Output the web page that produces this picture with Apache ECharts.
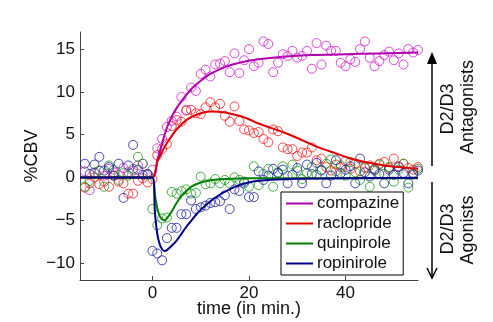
<!DOCTYPE html>
<html>
<head>
<meta charset="utf-8">
<script src="https://cdn.jsdelivr.net/npm/echarts@6/dist/echarts.min.js"></script>
<style>
  html, body { margin: 0; padding: 0; background: #fff; }
  #chart { width: 493px; height: 322px; }
</style>
</head>
<body>
<div id="chart"></div>
<script>
// sample times (min)
const time = [-14, -13, -12, -11, -10, -9, -8, -7, -6, -5, -4, -3, -2, -1, 0,
  1, 2, 3, 4, 5, 6, 7, 8, 9, 10, 11, 12, 13, 14, 15, 16, 17, 18, 19, 20, 21,
  22, 23, 24, 25, 26, 27, 28, 29, 30, 31, 32, 33, 34, 35, 36, 37, 38, 39, 40,
  41, 42, 43, 44, 45, 46, 47, 48, 49, 50, 51, 52, 53, 54, 55]

const compazine = [0.7, -1.5, 0.5, 0.8, 0.2, 1.0, 0.6, 0.3, 1.1, 0.6, 0.8, 1.4, 1.6, 0.4, 0.9,
  3.4, 4.5, 5.9, 6.6, 7.1, 9.4, 7.9, 10.5, 10.1, 12.1, 12.6, 11.8, 13.2, 13.3, 13.6, 12.3, 14.5, 12.2, 13.7, 15.0, 13.0,
  13.4, 15.9, 15.6, 12.3, 13.4, 14.4, 14.2, 14.8, 14.0, 14.2, 14.8, 12.7, 15.7, 13.2, 15.4, 14.8, 14.8,
  13.4, 13.0, 13.8, 13.5, 15.0, 15.9, 14.0, 13.0, 13.6, 14.3, 14.7, 13.7, 14.5, 13.2, 15.0, 14.6, 14.9]
const raclopride = [-1.2, -0.7, 0.0, -0.8, -0.5, -1.1, 0.2, -0.5, -0.7, -1.9, -1.9, -0.4, -0.1, -0.6, -0.2,
  2.6, 3.3, 3.9, 6.0, 6.7, 6.5, 7.8, 7.9, 7.5, 7.4, 8.2, 8.8, 8.2, 8.6, 7.2, 6.5, 8.3, 6.6, 5.6, 5.5, 5.2,
  5.3, 4.5, 4.1, 5.6, 5.4, 3.5, 3.3, 3.3, 2.5, 2.9, 2.9, 3.5, 2.0, 2.2, 1.2, 0.8, 1.5,
  1.2, 1.9, 1.0, 1.6, 0.7, 1.2, 1.4, 0.9, 1.6, 1.8, 1.1, 2.2, 1.3, 1.6, 1.1, 0.9, 1.2]
const quinpirole = [-1.1, -0.4, 0.6, 0.8, -1.1, 1.4, 0.9, -0.3, 0.5, 0.2, 1.0, 2.4, 1.6, 0.3, -3.7,
  -5.6, -4.8, -4.7, -1.7, -1.9, -1.6, -1.4, -1.9, -1.8, 0.1, -0.8, -0.7, -0.2, -0.7, -0.3, -0.7, 0.0, -0.3, -0.7, -1.1, 1.3,
  -0.9, 0.4, 1.0, -1.1, 0.6, 1.3, 0.2, 1.5, 0.8, -0.2, 0.5, 1.2, 0.3, 0.9, 1.6, 2.1, 0.7,
  1.4, 0.2, 1.8, 0.6, -0.3, 1.1, -1.1, 0.8, 1.5, 0.4, 1.2, -0.5, 0.9, 1.6, -1.2, 0.5, 1.0]
const ropinirole = [1.6, 0.4, 1.5, 2.4, 0.8, 1.2, 0.2, 1.6, -2.4, 1.4, 3.8, 0.9, 0.3, 0.4, -8.6,
  -8.9, -9.7, -7.1, -5.9, -5.9, -4.3, -4.3, -2.7, -3.7, -3.5, -3.3, -3.0, -2.9, -2.8, -2.1, -3.7, -1.4, -1.6, -0.5, -2.3, -2.3,
  0.7, -0.3, 0.2, 1.0, 0.5, 0.9, -0.7, 0.3, 1.1, -0.7, 1.5, 0.4, 1.7, 0.8, -0.7, 0.2, 2.0,
  0.5, 0.9, 1.3, -0.7, 2.2, 0.6, 0.1, 1.0, 0.4, -0.7, 0.9, 0.3, 1.2, 0.5, -0.7, 0.35, 0.8]

// fitted curves, [time, %CBV]
const compazineFit = [[-15, 0], [0, 0], [1, 2.0], [2, 4.0], [3, 5.8], [4, 7.1], [5, 8.1], [6, 8.9],
  [8, 10.3], [10, 11.3], [12, 12.1], [15, 12.9], [18, 13.4], [22, 13.8], [27, 14.1], [33, 14.3],
  [40, 14.4], [47, 14.5], [55, 14.6]]
const raclorideFit = [[-15, 0], [0, 0], [1, 1.8], [2, 3.0], [3, 4.0], [5, 5.6], [7, 6.7], [9, 7.3],
  [12, 7.7], [15, 7.6], [18, 7.2], [20, 6.8], [22, 6.3], [25, 5.7], [27, 5.3], [30, 4.6], [34, 3.6],
  [38, 2.8], [41, 2.2], [44, 1.8], [48, 1.4], [51, 1.2], [55, 1.0]]
const quinpiroleFit = [[-15, 0], [0, 0], [0.5, -2.0], [1, -3.6], [1.5, -4.5], [2, -4.9], [2.5, -5.0],
  [3, -4.8], [4, -4.0], [5, -3.0], [6, -2.2], [7, -1.6], [8, -1.1], [10, -0.6], [12, -0.35],
  [15, -0.2], [20, -0.1], [55, -0.1]]
const ropiniroleFit = [[-15, 0], [0, 0], [0.5, -4.0], [1, -6.6], [1.5, -7.8], [2, -8.4], [2.5, -8.6],
  [3, -8.5], [4, -8.0], [5, -7.4], [6, -6.6], [7, -5.8], [8, -5.1], [9, -4.4], [10, -3.8], [12, -2.8],
  [14, -2.0], [16, -1.4], [18, -0.9], [20, -0.6], [22, -0.4], [26, -0.25], [30, -0.15], [40, -0.1], [55, -0.05]]

const names = ['compazine', 'raclopride', 'quinpirole', 'ropinirole']
const lineColors = ['#b000b0', '#dd0000', '#007f00', '#00008b']
const dotColors = ['#d61ad6', '#ff1a1a', '#1a9a1a', '#1a1aa8']
const xTicks = [0, 20, 40]
const yTicks = [-10, -5, 0, 5, 10, 15]

const FONT = 'Liberation Sans'
const chart = echarts.init(document.getElementById('chart'))

const pts = [compazine, raclopride, quinpirole, ropinirole]
const fits = [compazineFit, raclorideFit, quinpiroleFit, ropiniroleFit]

const scatterSeries = pts.map(function (vals, i) {
  return {
    name: names[i] + ' data',
    type: 'scatter',
    symbol: 'circle',
    symbolSize: 9,
    itemStyle: { color: 'rgba(0,0,0,0)', borderColor: dotColors[i], borderWidth: 1 },
    data: vals.map(function (v, k) { return [time[k], v] }),
    z: 2,
    silent: true
  }
})
const lineSeries = fits.map(function (d, i) {
  return {
    name: names[i],
    type: 'line',
    smooth: 0.25,
    showSymbol: false,
    symbol: 'none',
    lineStyle: { color: lineColors[i], width: 2 },
    itemStyle: { color: lineColors[i] },
    data: d,
    z: 3
  }
})

const axisCol = '#444'
const option = {
  animation: false,
  backgroundColor: '#fff',
  textStyle: { fontFamily: FONT },
  grid: { left: 80, right: 75, top: 32, bottom: 42, outerBoundsMode: 'none' },
  xAxis: {
    type: 'value', min: -15, max: 55,
    name: 'time (in min.)', nameLocation: 'middle', nameGap: 20, nameMoveOverlap: false,
    nameTextStyle: { fontFamily: FONT, fontSize: 18, color: '#111' },
    axisLine: { onZero: false, lineStyle: { color: axisCol, width: 1 } },
    axisTick: { inside: true, length: 4, customValues: xTicks, lineStyle: { color: axisCol } },
    axisLabel: { customValues: xTicks, fontFamily: FONT, fontSize: 17, color: '#111', margin: 5 },
    splitLine: { show: false }
  },
  yAxis: {
    type: 'value', min: -12, max: 17,
    name: '%CBV', nameLocation: 'middle', nameGap: 39, nameRotate: 90, nameMoveOverlap: false,
    nameTextStyle: { fontFamily: FONT, fontSize: 18, color: '#111' },
    axisLine: { onZero: false, lineStyle: { color: axisCol, width: 1 } },
    axisTick: { inside: true, length: 4, customValues: yTicks, lineStyle: { color: axisCol } },
    axisLabel: { customValues: yTicks, fontFamily: FONT, fontSize: 17, color: '#111', margin: 5,
      formatter: function (v) { return v < 0 ? '\u2212' + Math.abs(v) : String(v) } },
    splitLine: { show: false }
  },
  legend: {
    data: names,
    orient: 'vertical',
    left: 281, top: 192,
    icon: 'rect', itemWidth: 27, itemHeight: 2, itemGap: 3,
    padding: [3, 4, 3, 5],
    borderColor: '#000', borderWidth: 1, backgroundColor: '#fff',
    textStyle: { fontFamily: FONT, fontSize: 17, color: '#111', padding: [0, 0, 0, -1] },
    selectedMode: false
  },
  graphic: [
    // antagonists arrow (up)
    { type: 'line', shape: { x1: 432, y1: 62, x2: 432, y2: 166 }, style: { stroke: '#000', lineWidth: 1.5 } },
    { type: 'polygon', shape: { points: [[432, 52], [427, 64], [437, 64]] }, style: { fill: '#000' } },
    { type: 'text', x: 448, y: 109, rotation: Math.PI / 2,
      style: { text: 'D2/D3', font: '18px ' + FONT, fill: '#111', align: 'center', verticalAlign: 'middle' } },
    { type: 'text', x: 468, y: 107, rotation: Math.PI / 2,
      style: { text: 'Antagonists', font: '18px ' + FONT, fill: '#111', align: 'center', verticalAlign: 'middle' } },
    // agonists arrow (down)
    { type: 'line', shape: { x1: 432, y1: 182, x2: 432, y2: 277 }, style: { stroke: '#000', lineWidth: 1.5 } },
    { type: 'polyline', shape: { points: [[427, 268], [432, 278], [437, 268]] }, style: { stroke: '#000', lineWidth: 1.5, fill: null } },
    { type: 'text', x: 448, y: 229, rotation: Math.PI / 2,
      style: { text: 'D2/D3', font: '18px ' + FONT, fill: '#111', align: 'center', verticalAlign: 'middle' } },
    { type: 'text', x: 468, y: 230, rotation: Math.PI / 2,
      style: { text: 'Agonists', font: '18px ' + FONT, fill: '#111', align: 'center', verticalAlign: 'middle' } }
  ],
  series: scatterSeries.concat(lineSeries)
}

chart.setOption(option)
</script>
</body>
</html>
